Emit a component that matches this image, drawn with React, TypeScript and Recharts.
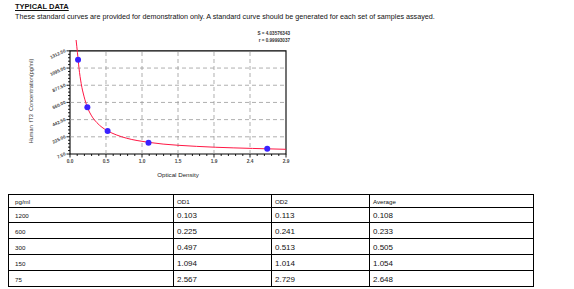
import React from "react";
import { ComposedChart, XAxis, YAxis, Line, Scatter, ReferenceLine, ReferenceArea } from "recharts";

// ---- table data ----
const concentrations = ["1200", "600", "300", "150", "75"];
const od1 = ["0.103", "0.225", "0.497", "1.094", "2.567"];
const od2 = ["0.113", "0.241", "0.513", "1.014", "2.729"];
const average = ["0.108", "0.233", "0.505", "1.054", "2.648"];
const tableHeaders = ["pg/ml", "OD1", "OD2", "Average"];

// ---- fitted curve ----
const curveOD = [0.082, 0.1, 0.12, 0.15, 0.19, 0.233, 0.29, 0.36, 0.43, 0.505, 0.62, 0.76, 0.9, 1.054, 1.25, 1.45, 1.7, 1.95, 2.2, 2.45, 2.648, 2.9];
const curveConc = [1450, 1290, 1100, 900, 730, 600, 490, 405, 345, 300, 250, 207, 178, 155, 133, 118, 104, 93, 85, 78, 73, 67];

// ---- axes ----
const xMajorTicks = [0, 0.48333, 0.96667, 1.45, 1.93333, 2.41667, 2.9];
const xTickLabels = ["0.0", "0.5", "1.0", "1.5", "1.9", "2.4", "2.9"];
const yMajorTicks = [7.5, 225, 442.5, 660, 877.5, 1095, 1312.5];
const yTickLabels = ["7.50", "225.00", "442.50", "660.00", "877.50", "1095.00", "1312.50"];
const xDomain = [0, 2.9];
const yDomain = [7.5, 1450];

const fitS = "S = 4.03576343";
const fitR = "r = 0.99993037";

function withMinor(major: number[], parts: number) {
  const out: number[] = [];
  for (let i = 0; i < major.length; i++) {
    out.push(major[i]);
    if (i < major.length - 1) {
      const step = (major[i + 1] - major[i]) / parts;
      for (let k = 1; k < parts; k++) out.push(major[i] + step * k);
    }
  }
  return out;
}
const xAllTicks = withMinor(xMajorTicks, 5);
const yAllTicks = withMinor(yMajorTicks, 5);

const curveData = curveOD.map((x, i) => ({ x, y: curveConc[i] }));
const pointData = average.map((a, i) => ({ x: parseFloat(a), y: parseFloat(concentrations[i]) }));

const FONT = "'Liberation Sans', Arial, sans-serif";

const XTick = (props: any) => {
  const { x, y, payload } = props;
  const idx = xMajorTicks.findIndex((v) => Math.abs(v - payload.value) < 1e-4);
  const major = idx >= 0;
  return (
    <g>
      <line x1={x} y1={y} x2={x} y2={y + (major ? 3.5 : 2)} stroke="#000" strokeWidth={0.9} />
      {major && (
        <text x={x} y={y + 9} textAnchor="middle" fontSize={4.8} fontWeight="bold" fill="#444" fontFamily={FONT}>
          {xTickLabels[idx]}
        </text>
      )}
    </g>
  );
};

const YTick = (props: any) => {
  const { x, y, payload } = props;
  const idx = yMajorTicks.findIndex((v) => Math.abs(v - payload.value) < 1e-4);
  const major = idx >= 0;
  const tx = x - 4;
  const ty = y + 1;
  return (
    <g>
      <line x1={x} y1={y} x2={x - (major ? 3.5 : 2)} y2={y} stroke="#000" strokeWidth={0.9} />
      {major && (
        <text
          x={tx}
          y={ty}
          textAnchor="end"
          fontSize={4.6}
          fontWeight="bold"
          fill="#444"
          fontFamily={FONT}
          transform={`rotate(-25 ${tx} ${ty})`}
        >
          {yTickLabels[idx]}
        </text>
      )}
    </g>
  );
};

export default function App() {
  const cellBorder = "1px solid #000";
  const rowHeights = [13, 15, 16, 16, 16, 16];
  const colWidths = [165, 98, 98, 164];
  const rows = [tableHeaders, ...concentrations.map((c, i) => [c, od1[i], od2[i], average[i]])];
  return (
    <div style={{ position: "absolute", left: 0, top: 0, width: 574, height: 289, background: "#fff", fontFamily: FONT }}>
      <div style={{ position: "absolute", left: 15, top: 2, fontSize: 7.5, fontWeight: "bold", textDecoration: "underline", color: "#111" }}>
        TYPICAL DATA
      </div>
      <div style={{ position: "absolute", left: 15, top: 12, fontSize: 7.2, color: "#111", whiteSpace: "nowrap" }}>
        These standard curves are provided for demonstration only. A standard curve should be generated for each set of samples assayed.
      </div>
      <div style={{ position: "absolute", right: 574 - 290, top: 31, fontSize: 4.6, fontWeight: "bold", color: "#333", textAlign: "right", lineHeight: "6.5px", whiteSpace: "nowrap" }}>
        <div>{fitS}</div>
        <div>{fitR}</div>
      </div>
      <div
        style={{
          position: "absolute",
          left: 31,
          top: 101,
          fontSize: 5.6,
          color: "#333",
          whiteSpace: "nowrap",
          transform: "translate(-50%, -50%) rotate(-90deg)",
        }}
      >
        Human&nbsp;&nbsp;fT3&nbsp;&nbsp;Concentration(pg/ml)
      </div>
      <div style={{ position: "absolute", left: 0, top: 0 }}>
        <ComposedChart width={300} height={190} margin={{ top: 40, right: 14, bottom: 0, left: 0 }}>
          <XAxis
            dataKey="x"
            type="number"
            domain={xDomain}
            ticks={xAllTicks}
            interval={0}
            tick={<XTick />}
            tickLine={false}
            tickSize={0}
            tickMargin={0}
            axisLine={false}
            height={36}
            allowDataOverflow
            label={{ value: "Optical Density", position: "insideBottom", offset: 13, style: { fontSize: 6.2, fill: "#222", fontFamily: FONT } }}
          />
          <YAxis
            dataKey="y"
            type="number"
            domain={yDomain}
            ticks={yAllTicks}
            interval={0}
            tick={<YTick />}
            tickLine={false}
            tickSize={0}
            tickMargin={0}
            axisLine={false}
            width={70}
            allowDataOverflow
          />
          {yMajorTicks.slice(1, -1).map((v) => (
            <ReferenceLine key={"h" + v} y={v} stroke="#9a9a9a" strokeDasharray="4 3" strokeWidth={0.8} />
          ))}
          {xMajorTicks.slice(1, -1).map((v) => (
            <ReferenceLine
              key={"v" + v}
              segment={[
                { x: v, y: yMajorTicks[0] },
                { x: v, y: yMajorTicks[yMajorTicks.length - 1] },
              ]}
              stroke="#9a9a9a"
              strokeDasharray="4 3"
              strokeWidth={0.8}
            />
          ))}
          <ReferenceArea
            x1={xDomain[0]}
            x2={xDomain[1]}
            y1={yMajorTicks[0]}
            y2={yMajorTicks[yMajorTicks.length - 1]}
            fill="none"
            fillOpacity={0}
            stroke="#000"
            strokeWidth={1.1}
          />
          <Line
            data={curveData}
            dataKey="y"
            type="monotone"
            stroke="#ff1744"
            strokeWidth={1}
            dot={false}
            isAnimationActive={false}
          />
          <Scatter
            data={pointData}
            dataKey="y"
            isAnimationActive={false}
            shape={(p: any) => <circle cx={p.cx} cy={p.cy} r={3} fill="#3a22ff" />}
          />
        </ComposedChart>
      </div>
      <table
        style={{
          position: "absolute",
          left: 8,
          top: 194,
          borderCollapse: "collapse",
          tableLayout: "fixed",
          width: 526,
          fontFamily: FONT,
          color: "#111",
        }}
      >
        <colgroup>
          {colWidths.map((w, i) => (
            <col key={i} style={{ width: w }} />
          ))}
        </colgroup>
        <tbody>
          {rows.map((r, ri) => (
            <tr key={ri} style={{ height: rowHeights[ri] }}>
              {r.map((c, ci) => (
                <td
                  key={ci}
                  style={{
                    border: cellBorder,
                    padding: ci === 0 ? "0 0 0 6px" : "0 0 0 3px",
                    fontSize: ri === 0 || ci === 0 ? 6.2 : 8,
                    verticalAlign: "bottom",
                    lineHeight: ri === 0 ? "10px" : "12px",
                    height: rowHeights[ri] - 1,
                    boxSizing: "border-box",
                    whiteSpace: "nowrap",
                    overflow: "hidden",
                  }}
                >
                  {c}
                </td>
              ))}
            </tr>
          ))}
        </tbody>
      </table>
    </div>
  );
}
